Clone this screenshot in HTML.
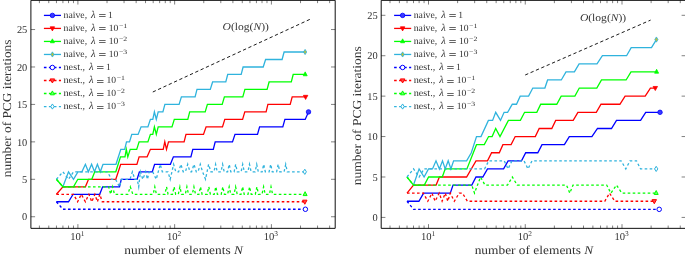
<!DOCTYPE html>
<html><head><meta charset="utf-8"><style>
html,body{margin:0;padding:0;background:#fff;}
body{width:685px;height:257px;overflow:hidden;font-family:"Liberation Serif",serif;}
svg{display:block;will-change:transform;} text{text-rendering:geometricPrecision;}
</style></head><body>
<svg width="685" height="257" viewBox="0 0 685 257" font-family="Liberation Serif">
<rect width="685" height="257" fill="#fff"/>
<path d="M30.9,0.35 V228.35 H335.2 V0.35 H30.9" fill="none" stroke="#000" stroke-width="0.95"/>
<line x1="39.40" y1="228.35" x2="39.40" y2="225.55" stroke="#000" stroke-width="0.5"/>
<line x1="39.40" y1="0.35" x2="39.40" y2="3.15" stroke="#000" stroke-width="0.5"/>
<line x1="48.78" y1="228.35" x2="48.78" y2="225.55" stroke="#000" stroke-width="0.5"/>
<line x1="48.78" y1="0.35" x2="48.78" y2="3.15" stroke="#000" stroke-width="0.5"/>
<line x1="56.44" y1="228.35" x2="56.44" y2="225.55" stroke="#000" stroke-width="0.5"/>
<line x1="56.44" y1="0.35" x2="56.44" y2="3.15" stroke="#000" stroke-width="0.5"/>
<line x1="62.91" y1="228.35" x2="62.91" y2="225.55" stroke="#000" stroke-width="0.5"/>
<line x1="62.91" y1="0.35" x2="62.91" y2="3.15" stroke="#000" stroke-width="0.5"/>
<line x1="68.52" y1="228.35" x2="68.52" y2="225.55" stroke="#000" stroke-width="0.5"/>
<line x1="68.52" y1="0.35" x2="68.52" y2="3.15" stroke="#000" stroke-width="0.5"/>
<line x1="73.47" y1="228.35" x2="73.47" y2="225.55" stroke="#000" stroke-width="0.5"/>
<line x1="73.47" y1="0.35" x2="73.47" y2="3.15" stroke="#000" stroke-width="0.5"/>
<line x1="77.90" y1="228.35" x2="77.90" y2="224.15" stroke="#000" stroke-width="0.5"/>
<line x1="77.90" y1="0.35" x2="77.90" y2="4.55" stroke="#000" stroke-width="0.5"/>
<line x1="107.02" y1="228.35" x2="107.02" y2="225.55" stroke="#000" stroke-width="0.5"/>
<line x1="107.02" y1="0.35" x2="107.02" y2="3.15" stroke="#000" stroke-width="0.5"/>
<line x1="124.06" y1="228.35" x2="124.06" y2="225.55" stroke="#000" stroke-width="0.5"/>
<line x1="124.06" y1="0.35" x2="124.06" y2="3.15" stroke="#000" stroke-width="0.5"/>
<line x1="136.15" y1="228.35" x2="136.15" y2="225.55" stroke="#000" stroke-width="0.5"/>
<line x1="136.15" y1="0.35" x2="136.15" y2="3.15" stroke="#000" stroke-width="0.5"/>
<line x1="145.53" y1="228.35" x2="145.53" y2="225.55" stroke="#000" stroke-width="0.5"/>
<line x1="145.53" y1="0.35" x2="145.53" y2="3.15" stroke="#000" stroke-width="0.5"/>
<line x1="153.19" y1="228.35" x2="153.19" y2="225.55" stroke="#000" stroke-width="0.5"/>
<line x1="153.19" y1="0.35" x2="153.19" y2="3.15" stroke="#000" stroke-width="0.5"/>
<line x1="159.66" y1="228.35" x2="159.66" y2="225.55" stroke="#000" stroke-width="0.5"/>
<line x1="159.66" y1="0.35" x2="159.66" y2="3.15" stroke="#000" stroke-width="0.5"/>
<line x1="165.27" y1="228.35" x2="165.27" y2="225.55" stroke="#000" stroke-width="0.5"/>
<line x1="165.27" y1="0.35" x2="165.27" y2="3.15" stroke="#000" stroke-width="0.5"/>
<line x1="170.22" y1="228.35" x2="170.22" y2="225.55" stroke="#000" stroke-width="0.5"/>
<line x1="170.22" y1="0.35" x2="170.22" y2="3.15" stroke="#000" stroke-width="0.5"/>
<line x1="174.65" y1="228.35" x2="174.65" y2="224.15" stroke="#000" stroke-width="0.5"/>
<line x1="174.65" y1="0.35" x2="174.65" y2="4.55" stroke="#000" stroke-width="0.5"/>
<line x1="203.77" y1="228.35" x2="203.77" y2="225.55" stroke="#000" stroke-width="0.5"/>
<line x1="203.77" y1="0.35" x2="203.77" y2="3.15" stroke="#000" stroke-width="0.5"/>
<line x1="220.81" y1="228.35" x2="220.81" y2="225.55" stroke="#000" stroke-width="0.5"/>
<line x1="220.81" y1="0.35" x2="220.81" y2="3.15" stroke="#000" stroke-width="0.5"/>
<line x1="232.90" y1="228.35" x2="232.90" y2="225.55" stroke="#000" stroke-width="0.5"/>
<line x1="232.90" y1="0.35" x2="232.90" y2="3.15" stroke="#000" stroke-width="0.5"/>
<line x1="242.28" y1="228.35" x2="242.28" y2="225.55" stroke="#000" stroke-width="0.5"/>
<line x1="242.28" y1="0.35" x2="242.28" y2="3.15" stroke="#000" stroke-width="0.5"/>
<line x1="249.94" y1="228.35" x2="249.94" y2="225.55" stroke="#000" stroke-width="0.5"/>
<line x1="249.94" y1="0.35" x2="249.94" y2="3.15" stroke="#000" stroke-width="0.5"/>
<line x1="256.41" y1="228.35" x2="256.41" y2="225.55" stroke="#000" stroke-width="0.5"/>
<line x1="256.41" y1="0.35" x2="256.41" y2="3.15" stroke="#000" stroke-width="0.5"/>
<line x1="262.02" y1="228.35" x2="262.02" y2="225.55" stroke="#000" stroke-width="0.5"/>
<line x1="262.02" y1="0.35" x2="262.02" y2="3.15" stroke="#000" stroke-width="0.5"/>
<line x1="266.97" y1="228.35" x2="266.97" y2="225.55" stroke="#000" stroke-width="0.5"/>
<line x1="266.97" y1="0.35" x2="266.97" y2="3.15" stroke="#000" stroke-width="0.5"/>
<line x1="271.40" y1="228.35" x2="271.40" y2="224.15" stroke="#000" stroke-width="0.5"/>
<line x1="271.40" y1="0.35" x2="271.40" y2="4.55" stroke="#000" stroke-width="0.5"/>
<line x1="300.52" y1="228.35" x2="300.52" y2="225.55" stroke="#000" stroke-width="0.5"/>
<line x1="300.52" y1="0.35" x2="300.52" y2="3.15" stroke="#000" stroke-width="0.5"/>
<line x1="317.56" y1="228.35" x2="317.56" y2="225.55" stroke="#000" stroke-width="0.5"/>
<line x1="317.56" y1="0.35" x2="317.56" y2="3.15" stroke="#000" stroke-width="0.5"/>
<line x1="329.65" y1="228.35" x2="329.65" y2="225.55" stroke="#000" stroke-width="0.5"/>
<line x1="329.65" y1="0.35" x2="329.65" y2="3.15" stroke="#000" stroke-width="0.5"/>
<line x1="30.9" y1="216.74" x2="35.1" y2="216.74" stroke="#000" stroke-width="0.5"/>
<line x1="335.2" y1="216.74" x2="331.0" y2="216.74" stroke="#000" stroke-width="0.5"/>
<line x1="30.9" y1="179.30" x2="35.1" y2="179.30" stroke="#000" stroke-width="0.5"/>
<line x1="335.2" y1="179.30" x2="331.0" y2="179.30" stroke="#000" stroke-width="0.5"/>
<line x1="30.9" y1="141.86" x2="35.1" y2="141.86" stroke="#000" stroke-width="0.5"/>
<line x1="335.2" y1="141.86" x2="331.0" y2="141.86" stroke="#000" stroke-width="0.5"/>
<line x1="30.9" y1="104.42" x2="35.1" y2="104.42" stroke="#000" stroke-width="0.5"/>
<line x1="335.2" y1="104.42" x2="331.0" y2="104.42" stroke="#000" stroke-width="0.5"/>
<line x1="30.9" y1="66.98" x2="35.1" y2="66.98" stroke="#000" stroke-width="0.5"/>
<line x1="335.2" y1="66.98" x2="331.0" y2="66.98" stroke="#000" stroke-width="0.5"/>
<line x1="30.9" y1="29.54" x2="35.1" y2="29.54" stroke="#000" stroke-width="0.5"/>
<line x1="335.2" y1="29.54" x2="331.0" y2="29.54" stroke="#000" stroke-width="0.5"/>
<text x="27.3" y="220.49" font-size="10.4" text-anchor="end" fill="#333333">0</text>
<text x="27.3" y="183.05" font-size="10.4" text-anchor="end" fill="#333333">5</text>
<text x="27.3" y="145.61" font-size="10.4" text-anchor="end" fill="#333333">10</text>
<text x="27.3" y="108.17" font-size="10.4" text-anchor="end" fill="#333333">15</text>
<text x="27.3" y="70.73" font-size="10.4" text-anchor="end" fill="#333333">20</text>
<text x="27.3" y="33.29" font-size="10.4" text-anchor="end" fill="#333333">25</text>
<text x="70.30" y="239.9" font-size="10.6" fill="#333333">10</text>
<text x="80.80" y="236.2" font-size="7.4" fill="#333333">1</text>
<text x="167.05" y="239.9" font-size="10.6" fill="#333333">10</text>
<text x="177.55" y="236.2" font-size="7.4" fill="#333333">2</text>
<text x="263.80" y="239.9" font-size="10.6" fill="#333333">10</text>
<text x="274.30" y="236.2" font-size="7.4" fill="#333333">3</text>
<line x1="43.9" y1="15.40" x2="61.0" y2="15.40" stroke="#0000ff" stroke-width="1.3"/>
<circle cx="52.4" cy="15.40" r="2.25" fill="#3a3aff" stroke="#0000ff" stroke-width="0.8"/>
<text x="63.5" y="17.7" font-size="9.6" fill="#333333" textLength="23.6" lengthAdjust="spacingAndGlyphs">naive,</text>
<text x="91.1" y="17.7" font-size="10.4" fill="#333333" font-style="italic">λ</text>
<path d="M99.1,14.50h6.5M99.1,16.50h6.5" stroke="#333" stroke-width="0.75"/>
<text x="108.1" y="17.7" font-size="9.6" fill="#333333">1</text>
<line x1="43.9" y1="28.42" x2="61.0" y2="28.42" stroke="#ff0000" stroke-width="1.3"/>
<polygon points="50.20,26.82 54.60,26.82 52.40,30.92" fill="#ff0000" stroke="#ff0000" stroke-width="0.8" stroke-linejoin="miter"/>
<text x="63.5" y="30.8" font-size="9.6" fill="#333333" textLength="23.6" lengthAdjust="spacingAndGlyphs">naive,</text>
<text x="91.1" y="30.8" font-size="10.4" fill="#333333" font-style="italic">λ</text>
<path d="M99.1,27.50h6.5M99.1,29.50h6.5" stroke="#333" stroke-width="0.75"/>
<text x="108.7" y="30.8" font-size="9.6" fill="#333333">10</text>
<text x="118.9" y="27.7" font-size="6.5" fill="#333333" textLength="8.3" lengthAdjust="spacingAndGlyphs">−1</text>
<line x1="43.9" y1="41.44" x2="61.0" y2="41.44" stroke="#00ff00" stroke-width="1.3"/>
<polygon points="50.40,42.74 54.40,42.74 52.40,38.84" fill="#00ff00" stroke="#00ff00" stroke-width="0.8" stroke-linejoin="miter"/>
<text x="63.5" y="43.9" font-size="9.6" fill="#333333" textLength="23.6" lengthAdjust="spacingAndGlyphs">naive,</text>
<text x="91.1" y="43.9" font-size="10.4" fill="#333333" font-style="italic">λ</text>
<path d="M99.1,40.50h6.5M99.1,42.50h6.5" stroke="#333" stroke-width="0.75"/>
<text x="108.7" y="43.9" font-size="9.6" fill="#333333">10</text>
<text x="118.9" y="40.8" font-size="6.5" fill="#333333" textLength="8.3" lengthAdjust="spacingAndGlyphs">−2</text>
<line x1="43.9" y1="54.46" x2="61.0" y2="54.46" stroke="#2fb3dd" stroke-width="1.3"/>
<polygon points="52.40,51.86 54.00,54.46 52.40,57.06 50.80,54.46" fill="#b8c040" stroke="#2fb3dd" stroke-width="0.8"/>
<text x="63.5" y="57.0" font-size="9.6" fill="#333333" textLength="23.6" lengthAdjust="spacingAndGlyphs">naive,</text>
<text x="91.1" y="57.0" font-size="10.4" fill="#333333" font-style="italic">λ</text>
<path d="M99.1,53.50h6.5M99.1,55.50h6.5" stroke="#333" stroke-width="0.75"/>
<text x="108.7" y="57.0" font-size="9.6" fill="#333333">10</text>
<text x="118.9" y="53.9" font-size="6.5" fill="#333333" textLength="8.3" lengthAdjust="spacingAndGlyphs">−3</text>
<line x1="43.9" y1="67.48" x2="61.0" y2="67.48" stroke="#0000ff" stroke-width="1.3" stroke-dasharray="2.6 2.4"/>
<circle cx="52.4" cy="67.48" r="2.25" fill="#fff" stroke="#0000ff" stroke-width="1.0"/>
<text x="63.5" y="70.1" font-size="9.6" fill="#333333" textLength="21.6" lengthAdjust="spacingAndGlyphs">nest.,</text>
<text x="89.0" y="70.1" font-size="10.4" fill="#333333" font-style="italic">λ</text>
<path d="M97.0,66.50h6.5M97.0,68.50h6.5" stroke="#333" stroke-width="0.75"/>
<text x="105.9" y="70.1" font-size="9.6" fill="#333333">1</text>
<line x1="43.9" y1="80.50" x2="61.0" y2="80.50" stroke="#ff0000" stroke-width="1.3" stroke-dasharray="2.6 2.4"/>
<polygon points="50.20,78.90 54.60,78.90 52.40,83.00" fill="#ff4a4a" stroke="#ff0000" stroke-width="1.0" stroke-linejoin="miter"/>
<text x="63.5" y="83.2" font-size="9.6" fill="#333333" textLength="21.6" lengthAdjust="spacingAndGlyphs">nest.,</text>
<text x="89.0" y="83.2" font-size="10.4" fill="#333333" font-style="italic">λ</text>
<path d="M97.0,80.50h6.5M97.0,82.50h6.5" stroke="#333" stroke-width="0.75"/>
<text x="106.5" y="83.2" font-size="9.6" fill="#333333">10</text>
<text x="116.7" y="80.1" font-size="6.5" fill="#333333" textLength="8.3" lengthAdjust="spacingAndGlyphs">−1</text>
<line x1="43.9" y1="93.52" x2="61.0" y2="93.52" stroke="#00ff00" stroke-width="1.3" stroke-dasharray="2.6 2.4"/>
<polygon points="50.40,94.82 54.40,94.82 52.40,90.92" fill="#70ff70" stroke="#00ff00" stroke-width="1.0" stroke-linejoin="miter"/>
<text x="63.5" y="96.3" font-size="9.6" fill="#333333" textLength="21.6" lengthAdjust="spacingAndGlyphs">nest.,</text>
<text x="89.0" y="96.3" font-size="10.4" fill="#333333" font-style="italic">λ</text>
<path d="M97.0,93.50h6.5M97.0,95.50h6.5" stroke="#333" stroke-width="0.75"/>
<text x="106.5" y="96.3" font-size="9.6" fill="#333333">10</text>
<text x="116.7" y="93.2" font-size="6.5" fill="#333333" textLength="8.3" lengthAdjust="spacingAndGlyphs">−2</text>
<line x1="43.9" y1="106.54" x2="61.0" y2="106.54" stroke="#2fb3dd" stroke-width="1.3" stroke-dasharray="2.6 2.4"/>
<polygon points="52.40,103.94 54.00,106.54 52.40,109.14 50.80,106.54" fill="#fff" stroke="#2fb3dd" stroke-width="1.0"/>
<text x="63.5" y="109.4" font-size="9.6" fill="#333333" textLength="21.6" lengthAdjust="spacingAndGlyphs">nest.,</text>
<text x="89.0" y="109.4" font-size="10.4" fill="#333333" font-style="italic">λ</text>
<path d="M97.0,106.50h6.5M97.0,108.50h6.5" stroke="#333" stroke-width="0.75"/>
<text x="106.5" y="109.4" font-size="9.6" fill="#333333">10</text>
<text x="116.7" y="106.3" font-size="6.5" fill="#333333" textLength="8.3" lengthAdjust="spacingAndGlyphs">−3</text>
<line x1="152.8" y1="92.0" x2="310.0" y2="19.3" stroke="#000" stroke-width="0.9" stroke-dasharray="3.3 2.55"/>
<text x="222.6" y="29.8" font-size="10.5" fill="#333333" textLength="46.3" lengthAdjust="spacingAndGlyphs"><tspan font-style="italic">O</tspan>(log(<tspan font-style="italic">N</tspan>))</text>
<polyline points="56.4,201.76 68.5,201.76 73.1,194.28 99.7,194.28 102.6,186.79 119.5,186.79 121.3,179.30 137.1,179.30 139.4,171.81 152.3,171.81 154.6,164.32 170.4,164.32 173.4,156.84 190.9,156.84 192.8,149.35 213.3,149.35 215.2,141.86 232.5,141.86 235.0,134.37 257.5,134.37 259.6,126.88 282.8,126.88 284.9,119.40 305.2,119.40 308.5,111.91" fill="none" stroke="#0000ff" stroke-width="1.3" stroke-linejoin="miter" stroke-miterlimit="10"/>
<polyline points="56.4,194.28 62.9,186.79 85.4,186.79 88.5,179.30 115.8,179.30 120.7,164.32 136.9,164.32 139.1,156.84 147.1,156.84 150.4,149.35 163.2,149.35 164.8,141.86 166.5,149.35 168.5,141.86 184.1,141.86 186.0,134.37 203.5,134.37 206.1,126.88 222.5,126.88 224.8,119.40 242.6,119.40 244.8,111.91 266.1,111.91 267.9,104.42 290.2,104.42 292.2,96.93 305.6,96.93" fill="none" stroke="#ff0000" stroke-width="1.3" stroke-linejoin="miter" stroke-miterlimit="10"/>
<polyline points="62.9,186.79 68.5,171.81 73.5,179.30 77.9,171.81 81.9,171.81 85.4,164.32 88.4,171.81 91.6,164.32 94.5,171.81 97.4,164.32 100.3,171.81 103.0,164.32 116.0,164.32 120.8,149.35 124.7,149.35 126.5,141.86 129.5,141.86 131.8,134.37 138.1,134.37 141.1,126.88 147.9,126.88 150.4,119.40 152.8,119.40 154.4,111.91 156.3,119.40 158.2,111.91 162.9,111.91 164.9,104.42 179.1,104.42 181.4,96.93 195.1,96.93 197.0,89.44 210.3,89.44 212.6,81.96 225.8,81.96 227.7,74.47 241.2,74.47 243.1,66.98 263.2,66.98 265.6,59.49 282.1,59.49 284.1,52.00 305.1,52.00" fill="none" stroke="#2fb3dd" stroke-width="1.3" stroke-linejoin="miter" stroke-miterlimit="10"/>
<polyline points="56.4,179.30 62.9,186.79 73.5,186.79 77.8,179.30 91.8,179.30 94.7,171.81 115.8,171.81 120.5,156.84 125.0,156.84 126.3,149.35 127.8,156.84 130.2,149.35 136.7,149.35 139.1,141.86 147.9,141.86 150.4,134.37 152.8,134.37 154.4,126.88 156.3,134.37 158.2,126.88 172.0,126.88 174.3,119.40 187.8,119.40 189.7,111.91 205.2,111.91 207.4,104.42 222.2,104.42 224.4,96.93 242.8,96.93 244.9,89.44 267.1,89.44 269.1,81.96 291.3,81.96 293.2,74.47 305.2,74.47" fill="none" stroke="#00ff00" stroke-width="1.3" stroke-linejoin="miter" stroke-miterlimit="10"/>
<polyline points="56.4,201.76 62.9,209.25 305.4,209.25" fill="none" stroke="#0000ff" stroke-width="1.3" stroke-linejoin="miter" stroke-miterlimit="10" stroke-dasharray="2.6 2.4"/>
<polyline points="56.4,194.28 73.5,194.28 77.6,201.76 81.3,194.28 85.4,201.76 88.9,194.28 91.8,201.76 94.9,194.28 97.4,201.76 99.8,194.28 102.2,201.76 305.0,201.76" fill="none" stroke="#ff0000" stroke-width="1.3" stroke-linejoin="miter" stroke-miterlimit="10" stroke-dasharray="2.6 2.4"/>
<polyline points="56.4,179.30 62.9,186.79 108.7,186.79 110.6,194.28 112.6,186.79 114.5,194.28 127.8,194.28 130.3,186.79 132.8,194.28 153.2,194.28 154.8,186.79 156.4,194.28 164.9,194.28 166.5,186.79 168.1,194.28 172.5,194.28 174.1,186.79 175.7,194.28 178.3,194.28 179.9,186.79 181.5,194.28 185.3,194.28 186.9,186.79 188.5,194.28 192.3,194.28 193.9,186.79 195.5,194.28 198.9,194.28 200.5,186.79 202.1,194.28 207.2,194.28 208.8,186.79 210.4,194.28 214.2,194.28 215.8,186.79 217.4,194.28 221.2,194.28 222.8,186.79 224.4,194.28 227.6,194.28 229.2,186.79 230.8,194.28 234.0,194.28 235.6,186.79 237.2,194.28 241.0,194.28 242.6,186.79 244.2,194.28 248.0,194.28 249.6,186.79 251.2,194.28 255.3,194.28 256.9,186.79 258.5,194.28 262.0,194.28 263.6,186.79 265.2,194.28 269.4,194.28 271.0,186.79 272.6,194.28 305.2,194.28" fill="none" stroke="#00ff00" stroke-width="1.3" stroke-linejoin="miter" stroke-miterlimit="10" stroke-dasharray="2.6 2.4"/>
<polyline points="56.4,179.30 62.9,171.81 68.5,179.30 73.5,171.81 107.5,171.81 111.5,179.30 115.5,179.30 119.5,186.79 121.5,179.30 130.0,179.30 132.4,171.81 134.8,179.30 137.2,179.30 138.7,186.79 140.4,171.81 142.8,179.30 145.7,171.81 147.4,179.30 149.2,171.81 152.7,171.81 156.2,179.30 160.3,164.32 162.3,171.81 168.0,171.81 170.2,179.30 173.6,164.32 175.8,171.81 178.6,171.81 180.9,164.32 183.2,171.81 185.4,171.81 187.7,164.32 190.0,171.81 191.6,171.81 194.0,164.32 196.3,171.81 198.0,171.81 200.3,164.32 202.6,171.81 205.5,179.30 208.6,164.32 210.9,171.81 214.0,171.81 215.6,164.32 217.2,171.81 221.0,171.81 222.6,164.32 224.2,171.81 227.6,171.81 229.2,164.32 230.8,171.81 234.1,171.81 235.7,164.32 237.3,171.81 241.1,171.81 242.7,164.32 244.3,171.81 247.9,171.81 249.5,164.32 251.1,171.81 255.1,171.81 256.7,164.32 258.3,171.81 262.1,171.81 263.7,164.32 265.3,171.81 269.1,171.81 270.7,164.32 272.3,171.81 276.6,171.81 278.2,164.32 279.8,171.81 284.1,171.81 285.7,164.32 287.3,171.81 304.8,171.81" fill="none" stroke="#2fb3dd" stroke-width="1.3" stroke-linejoin="miter" stroke-miterlimit="10" stroke-dasharray="2.6 2.4"/>
<circle cx="308.5" cy="111.91" r="2.25" fill="#3a3aff" stroke="#0000ff" stroke-width="0.8"/>
<polygon points="303.40,95.33 307.80,95.33 305.60,99.43" fill="#ff0000" stroke="#ff0000" stroke-width="0.8" stroke-linejoin="miter"/>
<polygon points="303.20,75.77 307.20,75.77 305.20,71.87" fill="#00ff00" stroke="#00ff00" stroke-width="0.8" stroke-linejoin="miter"/>
<polygon points="305.10,49.40 306.70,52.00 305.10,54.60 303.50,52.00" fill="#b8c040" stroke="#2fb3dd" stroke-width="0.8"/>
<circle cx="305.4" cy="209.25" r="2.25" fill="#fff" stroke="#0000ff" stroke-width="1.0"/>
<polygon points="302.60,200.16 307.00,200.16 304.80,204.26" fill="#ff4a4a" stroke="#ff0000" stroke-width="1.0" stroke-linejoin="miter"/>
<polygon points="303.10,195.58 307.10,195.58 305.10,191.68" fill="#70ff70" stroke="#00ff00" stroke-width="1.0" stroke-linejoin="miter"/>
<polygon points="304.80,169.21 306.40,171.81 304.80,174.41 303.20,171.81" fill="#fff" stroke="#2fb3dd" stroke-width="1.0"/>
<path d="M381.2,0.35 V228.35 H685.8 V0.35 H381.2" fill="none" stroke="#000" stroke-width="0.95"/>
<line x1="390.00" y1="228.35" x2="390.00" y2="225.55" stroke="#000" stroke-width="0.5"/>
<line x1="390.00" y1="0.35" x2="390.00" y2="3.15" stroke="#000" stroke-width="0.5"/>
<line x1="399.38" y1="228.35" x2="399.38" y2="225.55" stroke="#000" stroke-width="0.5"/>
<line x1="399.38" y1="0.35" x2="399.38" y2="3.15" stroke="#000" stroke-width="0.5"/>
<line x1="407.04" y1="228.35" x2="407.04" y2="225.55" stroke="#000" stroke-width="0.5"/>
<line x1="407.04" y1="0.35" x2="407.04" y2="3.15" stroke="#000" stroke-width="0.5"/>
<line x1="413.51" y1="228.35" x2="413.51" y2="225.55" stroke="#000" stroke-width="0.5"/>
<line x1="413.51" y1="0.35" x2="413.51" y2="3.15" stroke="#000" stroke-width="0.5"/>
<line x1="419.12" y1="228.35" x2="419.12" y2="225.55" stroke="#000" stroke-width="0.5"/>
<line x1="419.12" y1="0.35" x2="419.12" y2="3.15" stroke="#000" stroke-width="0.5"/>
<line x1="424.07" y1="228.35" x2="424.07" y2="225.55" stroke="#000" stroke-width="0.5"/>
<line x1="424.07" y1="0.35" x2="424.07" y2="3.15" stroke="#000" stroke-width="0.5"/>
<line x1="428.50" y1="228.35" x2="428.50" y2="224.15" stroke="#000" stroke-width="0.5"/>
<line x1="428.50" y1="0.35" x2="428.50" y2="4.55" stroke="#000" stroke-width="0.5"/>
<line x1="457.62" y1="228.35" x2="457.62" y2="225.55" stroke="#000" stroke-width="0.5"/>
<line x1="457.62" y1="0.35" x2="457.62" y2="3.15" stroke="#000" stroke-width="0.5"/>
<line x1="474.66" y1="228.35" x2="474.66" y2="225.55" stroke="#000" stroke-width="0.5"/>
<line x1="474.66" y1="0.35" x2="474.66" y2="3.15" stroke="#000" stroke-width="0.5"/>
<line x1="486.75" y1="228.35" x2="486.75" y2="225.55" stroke="#000" stroke-width="0.5"/>
<line x1="486.75" y1="0.35" x2="486.75" y2="3.15" stroke="#000" stroke-width="0.5"/>
<line x1="496.13" y1="228.35" x2="496.13" y2="225.55" stroke="#000" stroke-width="0.5"/>
<line x1="496.13" y1="0.35" x2="496.13" y2="3.15" stroke="#000" stroke-width="0.5"/>
<line x1="503.79" y1="228.35" x2="503.79" y2="225.55" stroke="#000" stroke-width="0.5"/>
<line x1="503.79" y1="0.35" x2="503.79" y2="3.15" stroke="#000" stroke-width="0.5"/>
<line x1="510.26" y1="228.35" x2="510.26" y2="225.55" stroke="#000" stroke-width="0.5"/>
<line x1="510.26" y1="0.35" x2="510.26" y2="3.15" stroke="#000" stroke-width="0.5"/>
<line x1="515.87" y1="228.35" x2="515.87" y2="225.55" stroke="#000" stroke-width="0.5"/>
<line x1="515.87" y1="0.35" x2="515.87" y2="3.15" stroke="#000" stroke-width="0.5"/>
<line x1="520.82" y1="228.35" x2="520.82" y2="225.55" stroke="#000" stroke-width="0.5"/>
<line x1="520.82" y1="0.35" x2="520.82" y2="3.15" stroke="#000" stroke-width="0.5"/>
<line x1="525.25" y1="228.35" x2="525.25" y2="224.15" stroke="#000" stroke-width="0.5"/>
<line x1="525.25" y1="0.35" x2="525.25" y2="4.55" stroke="#000" stroke-width="0.5"/>
<line x1="554.37" y1="228.35" x2="554.37" y2="225.55" stroke="#000" stroke-width="0.5"/>
<line x1="554.37" y1="0.35" x2="554.37" y2="3.15" stroke="#000" stroke-width="0.5"/>
<line x1="571.41" y1="228.35" x2="571.41" y2="225.55" stroke="#000" stroke-width="0.5"/>
<line x1="571.41" y1="0.35" x2="571.41" y2="3.15" stroke="#000" stroke-width="0.5"/>
<line x1="583.50" y1="228.35" x2="583.50" y2="225.55" stroke="#000" stroke-width="0.5"/>
<line x1="583.50" y1="0.35" x2="583.50" y2="3.15" stroke="#000" stroke-width="0.5"/>
<line x1="592.88" y1="228.35" x2="592.88" y2="225.55" stroke="#000" stroke-width="0.5"/>
<line x1="592.88" y1="0.35" x2="592.88" y2="3.15" stroke="#000" stroke-width="0.5"/>
<line x1="600.54" y1="228.35" x2="600.54" y2="225.55" stroke="#000" stroke-width="0.5"/>
<line x1="600.54" y1="0.35" x2="600.54" y2="3.15" stroke="#000" stroke-width="0.5"/>
<line x1="607.01" y1="228.35" x2="607.01" y2="225.55" stroke="#000" stroke-width="0.5"/>
<line x1="607.01" y1="0.35" x2="607.01" y2="3.15" stroke="#000" stroke-width="0.5"/>
<line x1="612.62" y1="228.35" x2="612.62" y2="225.55" stroke="#000" stroke-width="0.5"/>
<line x1="612.62" y1="0.35" x2="612.62" y2="3.15" stroke="#000" stroke-width="0.5"/>
<line x1="617.57" y1="228.35" x2="617.57" y2="225.55" stroke="#000" stroke-width="0.5"/>
<line x1="617.57" y1="0.35" x2="617.57" y2="3.15" stroke="#000" stroke-width="0.5"/>
<line x1="622.00" y1="228.35" x2="622.00" y2="224.15" stroke="#000" stroke-width="0.5"/>
<line x1="622.00" y1="0.35" x2="622.00" y2="4.55" stroke="#000" stroke-width="0.5"/>
<line x1="651.12" y1="228.35" x2="651.12" y2="225.55" stroke="#000" stroke-width="0.5"/>
<line x1="651.12" y1="0.35" x2="651.12" y2="3.15" stroke="#000" stroke-width="0.5"/>
<line x1="668.16" y1="228.35" x2="668.16" y2="225.55" stroke="#000" stroke-width="0.5"/>
<line x1="668.16" y1="0.35" x2="668.16" y2="3.15" stroke="#000" stroke-width="0.5"/>
<line x1="680.25" y1="228.35" x2="680.25" y2="225.55" stroke="#000" stroke-width="0.5"/>
<line x1="680.25" y1="0.35" x2="680.25" y2="3.15" stroke="#000" stroke-width="0.5"/>
<line x1="381.2" y1="217.41" x2="385.4" y2="217.41" stroke="#000" stroke-width="0.5"/>
<line x1="685.8" y1="217.41" x2="681.5999999999999" y2="217.41" stroke="#000" stroke-width="0.5"/>
<line x1="381.2" y1="176.99" x2="385.4" y2="176.99" stroke="#000" stroke-width="0.5"/>
<line x1="685.8" y1="176.99" x2="681.5999999999999" y2="176.99" stroke="#000" stroke-width="0.5"/>
<line x1="381.2" y1="136.56" x2="385.4" y2="136.56" stroke="#000" stroke-width="0.5"/>
<line x1="685.8" y1="136.56" x2="681.5999999999999" y2="136.56" stroke="#000" stroke-width="0.5"/>
<line x1="381.2" y1="96.14" x2="385.4" y2="96.14" stroke="#000" stroke-width="0.5"/>
<line x1="685.8" y1="96.14" x2="681.5999999999999" y2="96.14" stroke="#000" stroke-width="0.5"/>
<line x1="381.2" y1="55.72" x2="385.4" y2="55.72" stroke="#000" stroke-width="0.5"/>
<line x1="685.8" y1="55.72" x2="681.5999999999999" y2="55.72" stroke="#000" stroke-width="0.5"/>
<line x1="381.2" y1="15.30" x2="385.4" y2="15.30" stroke="#000" stroke-width="0.5"/>
<line x1="685.8" y1="15.30" x2="681.5999999999999" y2="15.30" stroke="#000" stroke-width="0.5"/>
<text x="377.7" y="221.16" font-size="10.4" text-anchor="end" fill="#333333">0</text>
<text x="377.7" y="180.74" font-size="10.4" text-anchor="end" fill="#333333">5</text>
<text x="377.7" y="140.31" font-size="10.4" text-anchor="end" fill="#333333">10</text>
<text x="377.7" y="99.89" font-size="10.4" text-anchor="end" fill="#333333">15</text>
<text x="377.7" y="59.47" font-size="10.4" text-anchor="end" fill="#333333">20</text>
<text x="377.7" y="19.05" font-size="10.4" text-anchor="end" fill="#333333">25</text>
<text x="420.90" y="239.9" font-size="10.6" fill="#333333">10</text>
<text x="431.40" y="236.2" font-size="7.4" fill="#333333">1</text>
<text x="517.65" y="239.9" font-size="10.6" fill="#333333">10</text>
<text x="528.15" y="236.2" font-size="7.4" fill="#333333">2</text>
<text x="614.40" y="239.9" font-size="10.6" fill="#333333">10</text>
<text x="624.90" y="236.2" font-size="7.4" fill="#333333">3</text>
<line x1="394.09999999999997" y1="15.40" x2="411.2" y2="15.40" stroke="#0000ff" stroke-width="1.3"/>
<circle cx="402.6" cy="15.40" r="2.25" fill="#3a3aff" stroke="#0000ff" stroke-width="0.8"/>
<text x="413.7" y="17.7" font-size="9.6" fill="#333333" textLength="23.6" lengthAdjust="spacingAndGlyphs">naive,</text>
<text x="441.3" y="17.7" font-size="10.4" fill="#333333" font-style="italic">λ</text>
<path d="M449.3,14.50h6.5M449.3,16.50h6.5" stroke="#333" stroke-width="0.75"/>
<text x="458.3" y="17.7" font-size="9.6" fill="#333333">1</text>
<line x1="394.09999999999997" y1="28.42" x2="411.2" y2="28.42" stroke="#ff0000" stroke-width="1.3"/>
<polygon points="400.40,26.82 404.80,26.82 402.60,30.92" fill="#ff0000" stroke="#ff0000" stroke-width="0.8" stroke-linejoin="miter"/>
<text x="413.7" y="30.8" font-size="9.6" fill="#333333" textLength="23.6" lengthAdjust="spacingAndGlyphs">naive,</text>
<text x="441.3" y="30.8" font-size="10.4" fill="#333333" font-style="italic">λ</text>
<path d="M449.3,27.50h6.5M449.3,29.50h6.5" stroke="#333" stroke-width="0.75"/>
<text x="458.9" y="30.8" font-size="9.6" fill="#333333">10</text>
<text x="469.1" y="27.7" font-size="6.5" fill="#333333" textLength="8.3" lengthAdjust="spacingAndGlyphs">−1</text>
<line x1="394.09999999999997" y1="41.44" x2="411.2" y2="41.44" stroke="#00ff00" stroke-width="1.3"/>
<polygon points="400.60,42.74 404.60,42.74 402.60,38.84" fill="#00ff00" stroke="#00ff00" stroke-width="0.8" stroke-linejoin="miter"/>
<text x="413.7" y="43.9" font-size="9.6" fill="#333333" textLength="23.6" lengthAdjust="spacingAndGlyphs">naive,</text>
<text x="441.3" y="43.9" font-size="10.4" fill="#333333" font-style="italic">λ</text>
<path d="M449.3,40.50h6.5M449.3,42.50h6.5" stroke="#333" stroke-width="0.75"/>
<text x="458.9" y="43.9" font-size="9.6" fill="#333333">10</text>
<text x="469.1" y="40.8" font-size="6.5" fill="#333333" textLength="8.3" lengthAdjust="spacingAndGlyphs">−2</text>
<line x1="394.09999999999997" y1="54.46" x2="411.2" y2="54.46" stroke="#2fb3dd" stroke-width="1.3"/>
<polygon points="402.60,51.86 404.20,54.46 402.60,57.06 401.00,54.46" fill="#b8c040" stroke="#2fb3dd" stroke-width="0.8"/>
<text x="413.7" y="57.0" font-size="9.6" fill="#333333" textLength="23.6" lengthAdjust="spacingAndGlyphs">naive,</text>
<text x="441.3" y="57.0" font-size="10.4" fill="#333333" font-style="italic">λ</text>
<path d="M449.3,53.50h6.5M449.3,55.50h6.5" stroke="#333" stroke-width="0.75"/>
<text x="458.9" y="57.0" font-size="9.6" fill="#333333">10</text>
<text x="469.1" y="53.9" font-size="6.5" fill="#333333" textLength="8.3" lengthAdjust="spacingAndGlyphs">−3</text>
<line x1="394.09999999999997" y1="67.48" x2="411.2" y2="67.48" stroke="#0000ff" stroke-width="1.3" stroke-dasharray="2.6 2.4"/>
<circle cx="402.6" cy="67.48" r="2.25" fill="#fff" stroke="#0000ff" stroke-width="1.0"/>
<text x="413.7" y="70.1" font-size="9.6" fill="#333333" textLength="21.6" lengthAdjust="spacingAndGlyphs">nest.,</text>
<text x="439.2" y="70.1" font-size="10.4" fill="#333333" font-style="italic">λ</text>
<path d="M447.2,66.50h6.5M447.2,68.50h6.5" stroke="#333" stroke-width="0.75"/>
<text x="456.1" y="70.1" font-size="9.6" fill="#333333">1</text>
<line x1="394.09999999999997" y1="80.50" x2="411.2" y2="80.50" stroke="#ff0000" stroke-width="1.3" stroke-dasharray="2.6 2.4"/>
<polygon points="400.40,78.90 404.80,78.90 402.60,83.00" fill="#ff4a4a" stroke="#ff0000" stroke-width="1.0" stroke-linejoin="miter"/>
<text x="413.7" y="83.2" font-size="9.6" fill="#333333" textLength="21.6" lengthAdjust="spacingAndGlyphs">nest.,</text>
<text x="439.2" y="83.2" font-size="10.4" fill="#333333" font-style="italic">λ</text>
<path d="M447.2,80.50h6.5M447.2,82.50h6.5" stroke="#333" stroke-width="0.75"/>
<text x="456.7" y="83.2" font-size="9.6" fill="#333333">10</text>
<text x="466.9" y="80.1" font-size="6.5" fill="#333333" textLength="8.3" lengthAdjust="spacingAndGlyphs">−1</text>
<line x1="394.09999999999997" y1="93.52" x2="411.2" y2="93.52" stroke="#00ff00" stroke-width="1.3" stroke-dasharray="2.6 2.4"/>
<polygon points="400.60,94.82 404.60,94.82 402.60,90.92" fill="#70ff70" stroke="#00ff00" stroke-width="1.0" stroke-linejoin="miter"/>
<text x="413.7" y="96.3" font-size="9.6" fill="#333333" textLength="21.6" lengthAdjust="spacingAndGlyphs">nest.,</text>
<text x="439.2" y="96.3" font-size="10.4" fill="#333333" font-style="italic">λ</text>
<path d="M447.2,93.50h6.5M447.2,95.50h6.5" stroke="#333" stroke-width="0.75"/>
<text x="456.7" y="96.3" font-size="9.6" fill="#333333">10</text>
<text x="466.9" y="93.2" font-size="6.5" fill="#333333" textLength="8.3" lengthAdjust="spacingAndGlyphs">−2</text>
<line x1="394.09999999999997" y1="106.54" x2="411.2" y2="106.54" stroke="#2fb3dd" stroke-width="1.3" stroke-dasharray="2.6 2.4"/>
<polygon points="402.60,103.94 404.20,106.54 402.60,109.14 401.00,106.54" fill="#fff" stroke="#2fb3dd" stroke-width="1.0"/>
<text x="413.7" y="109.4" font-size="9.6" fill="#333333" textLength="21.6" lengthAdjust="spacingAndGlyphs">nest.,</text>
<text x="439.2" y="109.4" font-size="10.4" fill="#333333" font-style="italic">λ</text>
<path d="M447.2,106.50h6.5M447.2,108.50h6.5" stroke="#333" stroke-width="0.75"/>
<text x="456.7" y="109.4" font-size="9.6" fill="#333333">10</text>
<text x="466.9" y="106.3" font-size="6.5" fill="#333333" textLength="8.3" lengthAdjust="spacingAndGlyphs">−3</text>
<line x1="525.2" y1="75.0" x2="650.6" y2="20.1" stroke="#000" stroke-width="0.9" stroke-dasharray="3.3 2.55"/>
<text x="579.9" y="21.4" font-size="10.5" fill="#333333" textLength="46.3" lengthAdjust="spacingAndGlyphs"><tspan font-style="italic">O</tspan>(log(<tspan font-style="italic">N</tspan>))</text>
<polyline points="407.0,201.24 418.9,201.24 423.6,193.16 450.3,193.16 453.0,185.07 471.8,185.07 476.0,176.99 482.8,176.99 487.5,168.90 503.6,168.90 508.1,160.82 521.5,160.82 525.7,152.73 537.8,152.73 542.0,144.65 564.4,144.65 569.3,136.56 591.9,136.56 597.5,128.48 611.5,128.48 616.5,120.40 640.6,120.40 645.7,112.31 660.0,112.31" fill="none" stroke="#0000ff" stroke-width="1.3" stroke-linejoin="miter" stroke-miterlimit="10"/>
<polyline points="407.0,193.16 413.5,185.07 436.1,185.07 439.4,176.99 466.6,176.99 476.0,160.82 487.5,160.82 491.6,152.73 499.3,152.73 502.9,144.65 511.1,144.65 515.2,136.56 535.3,136.56 539.2,128.48 551.8,128.48 555.7,120.40 573.2,120.40 577.9,112.31 596.3,112.31 601.0,104.23 619.9,104.23 625.1,96.14 645.2,96.14 650.4,88.06 655.3,88.06" fill="none" stroke="#ff0000" stroke-width="1.3" stroke-linejoin="miter" stroke-miterlimit="10"/>
<polyline points="413.5,185.07 419.1,168.90 424.1,176.99 428.5,168.90 432.5,168.90 436.0,160.82 439.4,168.90 442.5,160.82 445.2,168.90 448.2,160.82 450.9,168.90 453.6,160.82 466.6,160.82 471.3,152.73 476.5,136.56 481.0,136.56 488.4,120.40 492.6,120.40 495.7,112.31 500.5,120.40 504.1,112.31 507.6,112.31 512.3,104.23 516.5,104.23 520.2,96.14 528.6,96.14 532.8,88.06 544.9,88.06 547.6,79.97 561.3,79.97 566.0,71.89 574.4,71.89 579.1,63.80 597.0,63.80 602.4,55.72 626.6,55.72 631.2,47.64 651.5,47.64 656.4,39.55" fill="none" stroke="#2fb3dd" stroke-width="1.3" stroke-linejoin="miter" stroke-miterlimit="10"/>
<polyline points="407.0,176.99 413.5,185.07 424.3,185.07 428.6,176.99 442.3,176.99 445.2,168.90 466.9,168.90 476.5,144.65 484.3,144.65 488.6,136.56 492.1,136.56 495.7,128.48 500.0,136.56 508.4,120.40 520.4,120.40 524.6,112.31 536.8,112.31 540.7,104.23 556.8,104.23 561.2,96.14 574.9,96.14 579.3,88.06 596.8,88.06 601.5,79.97 626.1,79.97 631.0,71.89 656.4,71.89" fill="none" stroke="#00ff00" stroke-width="1.3" stroke-linejoin="miter" stroke-miterlimit="10"/>
<polyline points="407.0,201.24 413.5,209.33 659.2,209.33" fill="none" stroke="#0000ff" stroke-width="1.3" stroke-linejoin="miter" stroke-miterlimit="10" stroke-dasharray="2.6 2.4"/>
<polyline points="407.0,193.16 423.4,193.16 427.8,201.24 432.0,193.16 435.1,201.24 439.2,193.16 442.1,201.24 445.3,193.16 447.8,201.24 450.3,193.16 454.3,201.24 459.2,193.16 462.5,193.16 467.4,201.24 604.8,201.24 609.5,193.16 614.8,201.24 654.3,201.24" fill="none" stroke="#ff0000" stroke-width="1.3" stroke-linejoin="miter" stroke-miterlimit="10" stroke-dasharray="2.6 2.4"/>
<polyline points="407.0,176.99 413.5,185.07 471.8,185.07 474.5,193.16 480.5,176.99 485.0,185.07 507.5,185.07 512.3,176.99 517.2,185.07 566.5,185.07 569.8,193.16 573.0,185.07 606.7,185.07 610.9,193.16 616.5,185.07 621.8,193.16 656.2,193.16" fill="none" stroke="#00ff00" stroke-width="1.3" stroke-linejoin="miter" stroke-miterlimit="10" stroke-dasharray="2.6 2.4"/>
<polyline points="407.0,176.99 413.5,168.90 419.1,176.99 424.1,168.90 484.6,168.90 488.8,160.82 504.2,160.82 508.1,168.90 511.9,160.82 524.0,160.82 528.0,168.90 532.0,160.82 621.1,160.82 625.8,168.90 630.0,160.82 636.5,160.82 640.5,168.90 656.2,168.90" fill="none" stroke="#2fb3dd" stroke-width="1.3" stroke-linejoin="miter" stroke-miterlimit="10" stroke-dasharray="2.6 2.4"/>
<circle cx="660.0" cy="112.31" r="2.25" fill="#3a3aff" stroke="#0000ff" stroke-width="0.8"/>
<polygon points="653.10,86.46 657.50,86.46 655.30,90.56" fill="#ff0000" stroke="#ff0000" stroke-width="0.8" stroke-linejoin="miter"/>
<polygon points="654.60,73.19 658.60,73.19 656.60,69.29" fill="#00ff00" stroke="#00ff00" stroke-width="0.8" stroke-linejoin="miter"/>
<polygon points="656.40,36.95 658.00,39.55 656.40,42.15 654.80,39.55" fill="#b8c040" stroke="#2fb3dd" stroke-width="0.8"/>
<circle cx="659.2" cy="209.33" r="2.25" fill="#fff" stroke="#0000ff" stroke-width="1.0"/>
<polygon points="652.10,199.64 656.50,199.64 654.30,203.74" fill="#ff4a4a" stroke="#ff0000" stroke-width="1.0" stroke-linejoin="miter"/>
<polygon points="654.20,194.46 658.20,194.46 656.20,190.56" fill="#70ff70" stroke="#00ff00" stroke-width="1.0" stroke-linejoin="miter"/>
<polygon points="656.20,166.30 657.80,168.90 656.20,171.50 654.60,168.90" fill="#fff" stroke="#2fb3dd" stroke-width="1.0"/>
<text x="183.65" y="253.8" font-size="12.0" text-anchor="middle" fill="#333333" textLength="118.6" lengthAdjust="spacingAndGlyphs">number of elements <tspan font-style="italic">N</tspan></text>
<text x="533.95" y="253.8" font-size="12.0" text-anchor="middle" fill="#333333" textLength="118.6" lengthAdjust="spacingAndGlyphs">number of elements <tspan font-style="italic">N</tspan></text>
<text transform="translate(10.7,108.35) rotate(-90)" font-size="12.2" text-anchor="middle" fill="#333333" textLength="137.6" lengthAdjust="spacingAndGlyphs">number of PCG iterations</text>
<text transform="translate(361.1,115.75) rotate(-90)" font-size="12.2" text-anchor="middle" fill="#333333" textLength="139.0" lengthAdjust="spacingAndGlyphs">number of PCG iterations</text>
</svg>
</body></html>
